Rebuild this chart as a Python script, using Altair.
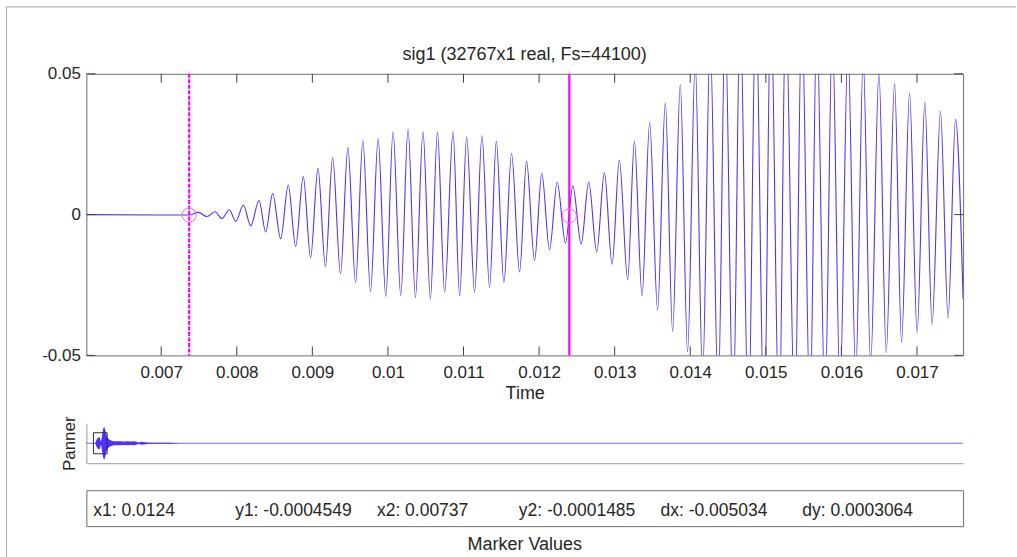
import json
import altair as alt
import pandas as pd

FONT = "Liberation Sans"
TXT = "#262626"
BLUE = "#4f30ff"
MAG = "#ff00ff"

# ---------------- data ----------------
title_text = "sig1 (32767x1 real, Fs=44100)"
x_title = "Time"
panner_title = "Panner"
marker_title = "Marker Values"
x_domain = [0.00601, 0.01761]
y_domain = [-0.05, 0.05]
x_tick_values = [0.007, 0.008, 0.009, 0.010, 0.011, 0.012, 0.013, 0.014, 0.015, 0.016, 0.017]
x_tick_labels = ["0.007", "0.008", "0.009", "0.01", "0.011", "0.012", "0.013", "0.014", "0.015", "0.016", "0.017"]
y_tick_values = [-0.05, 0.0, 0.05]
y_tick_labels = ["-0.05", "0", "0.05"]

# local extrema of the waveform (time in s, amplitude)
t_vals = [
    0.00601, 0.00737,
    0.007493, 0.007604, 0.007713, 0.007802, 0.007902, 0.007987, 0.008087, 0.008185,
    0.008294, 0.008383, 0.008475, 0.008581, 0.008681, 0.008779, 0.008880, 0.008977,
    0.009074, 0.009173, 0.009268, 0.009373, 0.009470, 0.009572, 0.009668, 0.009770,
    0.009870, 0.009972, 0.010068, 0.010170, 0.010266, 0.010364, 0.010464, 0.010562,
    0.010655, 0.010751, 0.010861, 0.010949, 0.011042, 0.011147, 0.011244, 0.011345,
    0.011434, 0.011534, 0.011636, 0.011742, 0.011834, 0.011940, 0.012036, 0.012138,
    0.012240, 0.012349, 0.012446, 0.012557, 0.012657, 0.012763, 0.012864, 0.012966,
    0.013062, 0.013172, 0.013261, 0.013362, 0.013463, 0.013568, 0.013670, 0.013767,
    0.013868, 0.013965, 0.014066, 0.014163, 0.014264, 0.014370, 0.014462, 0.014568,
    0.014661, 0.014770, 0.014868, 0.014978, 0.015066, 0.015176, 0.015264, 0.015383,
    0.015476, 0.015585, 0.015674, 0.015783, 0.015880, 0.015982, 0.016087, 0.016189,
    0.016289, 0.016387, 0.016497, 0.016593, 0.016704, 0.016796, 0.016902, 0.017002,
    0.017104, 0.017200, 0.017311, 0.017412, 0.017510, 0.017610,
]
v_vals = [
    0.0, -0.00015,
    0.0008, -0.0007, 0.0010, -0.0014, 0.0017, -0.0024, 0.0034, -0.0040,
    0.0050, -0.0062, 0.0075, -0.0086, 0.0105, -0.0113, 0.0135, -0.0152,
    0.0164, -0.0185, 0.0203, -0.0210, 0.0238, -0.0241, 0.0262, -0.0273,
    0.0269, -0.0291, 0.0294, -0.0288, 0.0303, -0.0294, 0.0294, -0.0300,
    0.0293, -0.0276, 0.0293, -0.0288, 0.0275, -0.0276, 0.0280, -0.0259,
    0.0260, -0.0241, 0.0218, -0.0204, 0.0189, -0.0163, 0.0147, -0.0125,
    0.0115, -0.0101, 0.0102, -0.0104, 0.0116, -0.0132, 0.0149, -0.0176,
    0.0194, -0.0231, 0.0260, -0.0288, 0.0327, -0.0340, 0.0396, -0.0415,
    0.0462, -0.0488, 0.054, -0.058, 0.062, -0.065, 0.068, -0.071,
    0.073, -0.075, 0.076, -0.077, 0.077, -0.076, 0.075, -0.074,
    0.073, -0.071, 0.069, -0.067, 0.065, -0.062, 0.060, -0.057,
    0.055, -0.053, 0.0505, -0.0490, 0.0466, -0.0454, 0.0432, -0.0420,
    0.0400, -0.0390, 0.0367, -0.0367, 0.0338, -0.0300,
]

# markers
marker_names = ["x1", "y1", "x2", "y2", "dx", "dy"]
marker_texts = ["0.0124", "-0.0004549", "0.00737", "-0.0001485", "-0.005034", "0.0003064"]
marker_t = [0.0124, 0.00737]
marker_v = [-0.0004549, -0.0001485]
marker_style = ["solid", "dashed"]

# panner (whole signal envelope)
signal_duration = 0.74302
pan_domain = [-0.095, 0.095]
pan_t = [0.0, 0.0074, 0.0085, 0.0100, 0.0113, 0.0124, 0.0135, 0.0144, 0.0152, 0.0161,
         0.0169, 0.0180, 0.0200, 0.0230, 0.0260, 0.0290, 0.0320, 0.0350, 0.0380, 0.0410,
         0.0440, 0.0470, 0.0520, 0.0600, 0.0700, 0.0800, 0.74302]
pan_amp = [0.0, 0.0, 0.015, 0.027, 0.028, 0.006, 0.045, 0.072, 0.077, 0.062,
           0.042, 0.025, 0.015, 0.010, 0.009, 0.010, 0.008, 0.010, 0.008, 0.009,
           0.004, 0.007, 0.003, 0.002, 0.002, 0.0, 0.0]

# ---------------- sizes ----------------
W = 878
H_MAIN = 282
H_PAN = 40
GAP_EXTRA = 41          # extra room above the panner (gap 68 = 27 + 41)
H_MARK = 36
TICK = 9

main_df = pd.DataFrame({"t": t_vals, "v": v_vals})
mk_df = pd.DataFrame({"t": marker_t, "v": marker_v, "style": marker_style})
xt_df = pd.DataFrame({"t": x_tick_values})
yt_df = pd.DataFrame({"v": y_tick_values})
one = pd.DataFrame({"a": [0]})

x_expr = f"{json.dumps(x_tick_labels)}[indexof({json.dumps(x_tick_values)}, datum.value)]"
y_expr = f"{json.dumps(y_tick_labels)}[indexof({json.dumps(y_tick_values)}, datum.value)]"

xs = alt.Scale(domain=x_domain, nice=False, zero=False)
ys = alt.Scale(domain=y_domain, nice=False, zero=False)
X_MAIN = alt.X("t:Q", scale=xs, axis=alt.Axis(
    values=x_tick_values, labelExpr=x_expr, title=x_title, domain=False, ticks=False,
    grid=False, labelPadding=9, titlePadding=4, labelFontSize=17, titleFontSize=18,
    labelColor=TXT, titleColor=TXT, titleFontWeight="normal", labelFlush=False, labelFont=FONT,
    titleFont=FONT))
Y_MAIN = alt.Y("v:Q", scale=ys, axis=alt.Axis(
    values=y_tick_values, labelExpr=y_expr, title="", domain=False, ticks=False,
    grid=False, labelPadding=6, labelFontSize=17, labelColor=TXT, labelFlush=False,
    labelFont=FONT))

wave = alt.Chart(main_df).mark_line(color=BLUE, strokeWidth=1.1, interpolate="monotone",
                                    clip=True).encode(x=X_MAIN, y=Y_MAIN)

tick_col = "#404040"
xt_bot = alt.Chart(xt_df).mark_rule(color=tick_col, strokeWidth=1).encode(
    x=X_MAIN, y=alt.value(H_MAIN), y2=alt.value(H_MAIN - TICK))
xt_top = alt.Chart(xt_df).mark_rule(color=tick_col, strokeWidth=1).encode(
    x=X_MAIN, y=alt.value(0), y2=alt.value(TICK))
yt_l = alt.Chart(yt_df).mark_rule(color=tick_col, strokeWidth=1).encode(
    y=Y_MAIN, x=alt.value(0), x2=alt.value(TICK))
yt_r = alt.Chart(yt_df).mark_rule(color=tick_col, strokeWidth=1).encode(
    y=Y_MAIN, x=alt.value(W - TICK), x2=alt.value(W))

solid = alt.Chart(mk_df).transform_filter("datum.style == 'solid'").mark_rule(
    color=MAG, strokeWidth=2.2).encode(x=X_MAIN, y=alt.value(0), y2=alt.value(H_MAIN))
dashed = alt.Chart(mk_df).transform_filter("datum.style == 'dashed'").mark_rule(
    color=MAG, strokeWidth=2.2, strokeDash=[4, 1.5]).encode(
    x=X_MAIN, y=alt.value(0), y2=alt.value(H_MAIN))
circles = alt.Chart(mk_df).mark_point(shape="circle", filled=False, color="#ff5cff",
                                      opacity=1, strokeWidth=1, size=200).encode(
    x=X_MAIN, y=Y_MAIN)

FRAME = "#a8a8a8"
frame_top = alt.Chart(one).mark_rule(color=FRAME, strokeWidth=1).encode(
    x=alt.value(-80), x2=alt.value(931), y=alt.value(-67))
frame_left = alt.Chart(one).mark_rule(color=FRAME, strokeWidth=1).encode(
    x=alt.value(-80), y=alt.value(-67), y2=alt.value(484))

title_df = pd.DataFrame({"txt": [title_text]})
title_mark = alt.Chart(title_df).mark_text(
    fontSize=18, font=FONT, color=TXT, align="center", baseline="middle").encode(
    x=alt.value(W / 2), y=alt.value(-19), text="txt:N")

main = alt.layer(frame_top, frame_left, title_mark, wave, xt_bot, xt_top, yt_l, yt_r,
                 dashed, solid, circles).properties(
    width=W, height=H_MAIN,
    view=alt.ViewBackground(stroke="#6e6e6e", strokeWidth=1),
)

# ---------------- panner ----------------
pan_df = pd.DataFrame({"t": pan_t, "amp": pan_amp})
pan_df["neg"] = -pan_df["amp"]
pan_line = pd.DataFrame({"t": [0.0, signal_duration], "v": [0.0, 0.0]})
box_df = pd.DataFrame({"t": [x_domain[0]], "t2": [x_domain[1]],
                       "v": [y_domain[0]], "v2": [y_domain[1]]})

H_PAN_TOTAL = H_PAN + GAP_EXTRA
pxs = alt.Scale(domain=[0, signal_duration], nice=False, zero=False)
pys = alt.Scale(domain=pan_domain, nice=False, zero=False, range=[H_PAN_TOTAL, GAP_EXTRA])
PAN_X_AXIS = alt.Axis(title="", labels=False, ticks=False, grid=False,
                      domain=True, domainColor="#9a9a9a", domainWidth=1)
PAN_Y_AXIS = alt.Axis(title=panner_title, labels=False, ticks=False,
                      grid=False, domain=True, domainColor="#9a9a9a",
                      domainWidth=1, titleFontSize=17,
                      titleFontWeight="normal", titleColor=TXT,
                      titlePadding=8, titleFont=FONT)
PX = alt.X("t:Q", scale=pxs, axis=PAN_X_AXIS)
PY = alt.Y("v:Q", scale=pys, axis=PAN_Y_AXIS)

pan_area = alt.Chart(pan_df).mark_area(color=BLUE, opacity=1).encode(
    x=PX, y=alt.Y("amp:Q", scale=pys, axis=PAN_Y_AXIS), y2="neg:Q")
pan_zero = alt.Chart(pan_line).mark_line(color=BLUE, strokeWidth=1, opacity=0.75).encode(x=PX, y=PY)
pan_box = alt.Chart(box_df).mark_rect(fillOpacity=0, stroke="#303030", strokeWidth=1).encode(
    x=PX, x2="t2:Q", y=PY, y2="v2:Q")

panner = alt.layer(pan_zero, pan_area, pan_box).properties(
    width=W, height=H_PAN_TOTAL, view=alt.ViewBackground(stroke="transparent"))

# ---------------- marker values ----------------
mv_df = pd.DataFrame({"idx": list(range(len(marker_names))), "name": marker_names,
                      "val": marker_texts})
marker_text = alt.Chart(mv_df).transform_calculate(
    label="datum.name + ': ' + datum.val").mark_text(
    align="left", baseline="middle", fontSize=17.5, font=FONT, color=TXT).encode(
    x=alt.X("idx:Q", scale=alt.Scale(domain=[0, 5], range=[7, 717]), axis=None),
    y=alt.value(21),
    text="label:N",
)
mt_df = pd.DataFrame({"txt": [marker_title]})
marker_title_mark = alt.Chart(mt_df).mark_text(
    fontSize=18, font=FONT, color=TXT, align="center", baseline="middle").encode(
    x=alt.value(W / 2), y=alt.value(H_MARK + 19), text="txt:N")

marker = alt.layer(marker_text, marker_title_mark).properties(
    width=W, height=H_MARK,
    view=alt.ViewBackground(stroke="#6e6e6e", strokeWidth=1),
)

chart = alt.vconcat(main, panner, marker, spacing=27, bounds="flush").configure(
    font=FONT, background="white",
    padding={"left": 5.5, "top": 5.5, "right": 0, "bottom": 0},
)

chart.save("out.html", embed_options={"renderer": "svg", "actions": False})
